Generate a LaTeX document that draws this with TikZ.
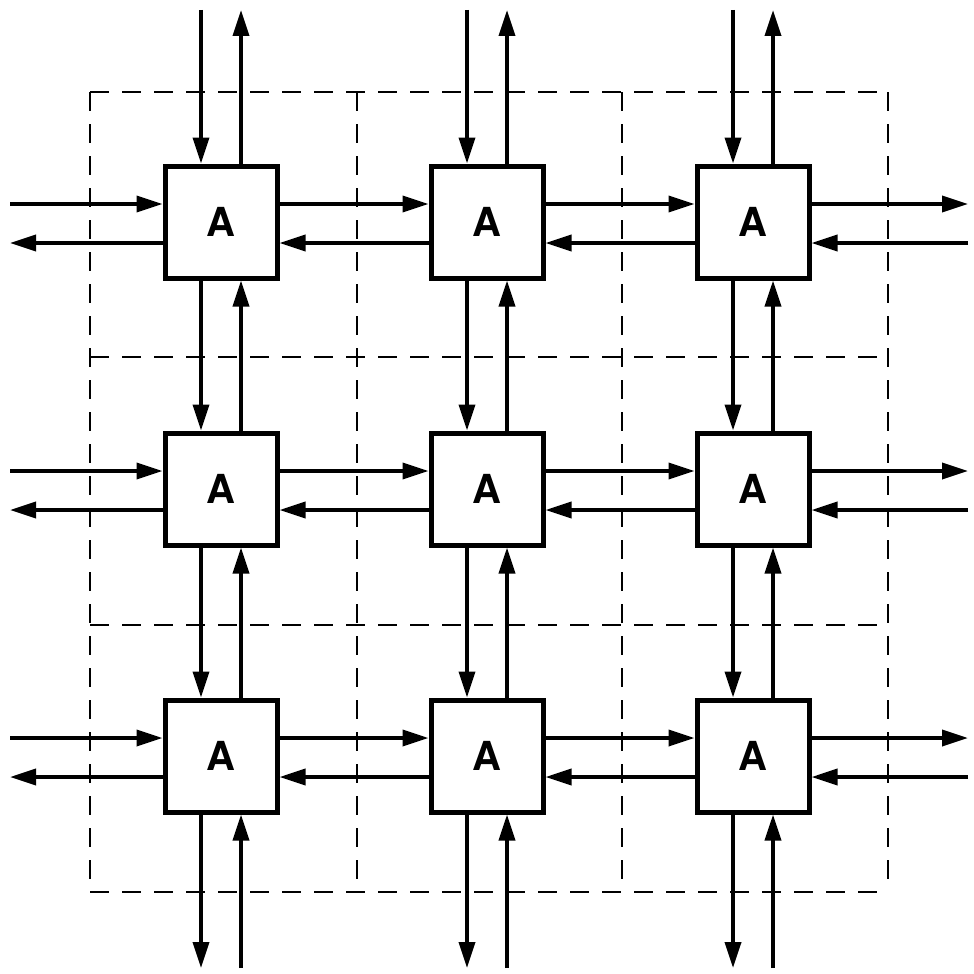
\documentclass[tikz,border=0pt]{standalone}
\usepackage{fontspec}
\setsansfont{TeX Gyre Heros}
\usetikzlibrary{arrows.meta,calc}
\begin{document}
\begin{tikzpicture}[x=1pt,y=-1pt,
  box/.style={draw,line width=5pt,minimum size=112pt,inner sep=0pt,fill=white,font=\sffamily\bfseries\fontsize{40}{40}\selectfont},
  arr/.style={line width=3.8pt,-{Triangle[length=26pt,width=16pt]}},
  cell/.style={dash pattern=on 19pt off 13pt,line width=2.4pt}]
\useasboundingbox (0,0) rectangle (974,974);
% dashed partition
\foreach \xx in {90,357,622,888} \draw[cell] (\xx,92) -- (\xx,892);
\foreach \yy in {92,357,625,892} \draw[cell] (90,\yy) -- (888,\yy);
% free ends
\coordinate (T) at (0,10);
\coordinate (B) at (0,968);
\coordinate (L) at (10,0);
\coordinate (R) at (968,0);
% boxes
\foreach \r/\y in {1/222,2/489,3/756}
  \foreach \c/\x in {1/221,2/487,3/753}
    \node[box] (b\r\c) at (\x,\y) {A};
% vertical connectors
\foreach \c in {1,2,3}{
  \draw[arr] ($(b1\c.north |- T)+(-20,0)$) -- ($(b1\c.north)+(-20,0)$);
  \draw[arr] ($(b1\c.north)+(20,0)$) -- ($(b1\c.north |- T)+(20,0)$);
  \draw[arr] ($(b1\c.south)+(-20,0)$) -- ($(b2\c.north)+(-20,0)$);
  \draw[arr] ($(b2\c.north)+(20,0)$) -- ($(b1\c.south)+(20,0)$);
  \draw[arr] ($(b2\c.south)+(-20,0)$) -- ($(b3\c.north)+(-20,0)$);
  \draw[arr] ($(b3\c.north)+(20,0)$) -- ($(b2\c.south)+(20,0)$);
  \draw[arr] ($(b3\c.south)+(-20,0)$) -- ($(b3\c.south |- B)+(-20,0)$);
  \draw[arr] ($(b3\c.south |- B)+(20,0)$) -- ($(b3\c.south)+(20,0)$);
}
% horizontal connectors
\foreach \r in {1,2,3}{
  \draw[arr] ($(b\r1.west -| L)+(0,-18)$) -- ($(b\r1.west)+(0,-18)$);
  \draw[arr] ($(b\r1.west)+(0,21)$) -- ($(b\r1.west -| L)+(0,21)$);
  \draw[arr] ($(b\r1.east)+(0,-18)$) -- ($(b\r2.west)+(0,-18)$);
  \draw[arr] ($(b\r2.west)+(0,21)$) -- ($(b\r1.east)+(0,21)$);
  \draw[arr] ($(b\r2.east)+(0,-18)$) -- ($(b\r3.west)+(0,-18)$);
  \draw[arr] ($(b\r3.west)+(0,21)$) -- ($(b\r2.east)+(0,21)$);
  \draw[arr] ($(b\r3.east)+(0,-18)$) -- ($(b\r3.east -| R)+(0,-18)$);
  \draw[arr] ($(b\r3.east -| R)+(0,21)$) -- ($(b\r3.east)+(0,21)$);
}
\end{tikzpicture}
\end{document}
